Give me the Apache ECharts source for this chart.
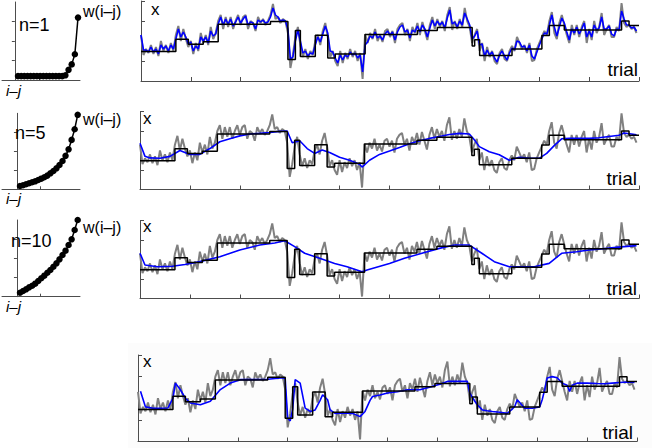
<!DOCTYPE html>
<html lang="en">
<head>
<meta charset="UTF-8">
<title>weighted running average</title>
<style>
    html,body{margin:0;padding:0;background:#fff;}
    #main{width:652px;height:448px;}
</style>
<script type="text/javascript" src="https://cdn.jsdelivr.net/npm/echarts@6/dist/echarts.min.js"></script>
</head>
<body>
<div id="main"></div>
<script>
    // observed x, one value per trial (gray)
    const grayX = [
        2.3, 1.3, 1.6, 1.4, 1.8, 1.35, 1.7, 1.25, 2.0, 1.5,
        1.8, 1.4, 1.9, 1.5, 2.3, 2.75, 2.0, 2.6, 2.1, 1.7,
        2.0, 1.35, 1.9, 1.5, 2.4, 1.9, 2.3, 1.8, 2.7, 2.1,
        2.4, 3.0, 3.3, 2.6, 3.2, 2.7, 3.2, 2.6, 3.0, 3.3,
        2.8, 3.2, 3.3, 2.6, 3.0, 2.9, 2.5, 3.2, 2.9, 3.1,
        2.8, 3.0, 3.3, 3.85, 3.1, 3.2, 2.9, 3.1, 3.0, 2.4,
        0.65, 1.3, 2.2, 2.7, 1.8, 1.2, 1.6, 1.1, 1.5, 1.3,
        2.0, 2.3, 1.8, 2.5, 2.9, 2.2, 1.2, 1.5, 1.0, 0.75,
        1.5, 0.9, 1.4, 1.1, 1.6, 1.2, 1.5, 1.0, 1.4, 0.1,
        2.35, 1.9, 2.4, 2.1, 2.6, 2.0, 2.3, 1.95, 2.5, 2.6,
        2.2, 2.5, 1.9, 2.6, 2.8, 2.9, 2.3, 2.6, 2.0, 2.7,
        2.4, 2.9, 2.3, 2.95, 2.5, 2.05, 2.8, 3.2, 2.6, 3.1,
        2.7, 3.0, 2.5, 3.3, 3.7, 2.55, 3.0, 2.6, 3.1, 2.7,
        3.65, 3.0, 2.7, 1.9, 2.3, 2.6, 1.5, 1.9, 1.0, 1.7,
        1.2, 1.5, 1.0, 0.85, 1.4, 1.6, 1.1, 1.0, 1.5, 1.75,
        1.5, 2.2, 1.9, 1.6, 1.8, 1.4, 1.9, 1.0, 1.05, 1.6,
        1.9, 2.2, 2.5, 2.3, 3.0, 3.45, 2.4, 2.1, 2.9, 3.3,
        2.8, 2.3, 1.9, 2.8, 2.3, 2.8, 2.2, 2.7, 3.0, 1.9,
        2.6, 2.05, 3.0, 2.4, 2.7, 3.4, 2.3, 2.6, 2.8, 2.2,
        2.2, 2.7, 2.5, 3.9, 2.9, 2.7, 2.8, 2.6, 2.7, 2.4
    ];

    // true x (black): trial where each level starts, and the level
    const stepTrial = [0, 14, 19, 25, 31, 52, 59, 62, 64, 70, 75, 78, 90, 111, 119, 133, 134, 136, 149, 161, 164, 170, 193, 196, 200];
    const stepLevel = [1.48, 2.09, 1.84, 1.96, 2.84, 2.97, 1.08, 2.53, 1.23, 2.29, 1.15, 1.35, 2.33, 2.53, 2.68, 1.75, 2.06, 1.27, 1.6, 2.28, 2.78, 2.55, 3.0, 2.78, 2.78];

    // estimate with n=1 (blue, every trial)
    const blueN1 = [
        2.3, 1.55, 1.55, 1.45, 1.7, 1.45, 1.6, 1.35, 1.8, 1.6,
        1.75, 1.5, 1.8, 1.6, 2.1, 2.6, 2.2, 2.45, 2.2, 1.85,
        1.95, 1.5, 1.75, 1.6, 2.2, 2.0, 2.2, 1.9, 2.5, 2.25,
        2.35, 2.85, 3.2, 2.8, 3.1, 2.85, 3.1, 2.75, 2.95, 3.2,
        2.9, 3.1, 3.25, 2.8, 2.95, 2.9, 2.6, 3.05, 2.95, 3.05,
        2.9, 2.95, 3.2, 3.65, 3.3, 3.2, 3.0, 3.05, 3.0, 2.6,
        1.1, 1.2, 2.0, 2.55, 2.0, 1.4, 1.5, 1.25, 1.4, 1.35,
        1.8, 2.2, 1.95, 2.35, 2.75, 2.4, 1.5, 1.45, 1.15, 0.9,
        1.3, 1.05, 1.3, 1.2, 1.45, 1.3, 1.4, 1.15, 1.3, 0.45,
        1.8, 1.95, 2.25, 2.15, 2.45, 2.15, 2.25, 2.05, 2.35, 2.5,
        2.3, 2.45, 2.05, 2.45, 2.7, 2.8, 2.45, 2.55, 2.15, 2.55,
        2.45, 2.75, 2.45, 2.8, 2.6, 2.2, 2.65, 3.05, 2.75, 3.0,
        2.8, 2.95, 2.65, 3.15, 3.55, 2.85, 2.95, 2.7, 3.0, 2.8,
        3.4, 3.1, 2.8, 2.1, 2.25, 2.5, 1.8, 1.85, 1.25, 1.55,
        1.3, 1.45, 1.15, 0.95, 1.3, 1.5, 1.25, 1.05, 1.4, 1.65,
        1.55, 2.0, 1.95, 1.7, 1.75, 1.5, 1.8, 1.25, 1.1, 1.45,
        1.8, 2.1, 2.4, 2.35, 2.8, 3.3, 2.7, 2.25, 2.7, 3.15,
        2.9, 2.45, 2.05, 2.6, 2.4, 2.7, 2.35, 2.6, 2.9, 2.2,
        2.5, 2.2, 2.8, 2.55, 2.65, 3.2, 2.6, 2.6, 2.75, 2.35,
        2.25, 2.6, 2.55, 3.5, 3.1, 2.8, 2.8, 2.65, 2.7, 2.5
    ];

    // estimate with n=5
    const blueN5Trial = [0, 2, 4, 8, 12, 16, 20, 24, 28, 32, 36, 40, 44, 48, 52, 56, 59, 61, 64, 67, 70, 73, 76, 80, 84, 88, 89, 92, 96, 100, 104, 108, 112, 116, 120, 124, 128, 132, 134, 136, 140, 144, 148, 152, 156, 160, 163, 166, 169, 172, 176, 180, 184, 188, 192, 194, 197, 199];
    const blueN5 = [2.37, 1.7, 1.62, 1.6, 1.7, 2.0, 1.8, 1.8, 2.1, 2.45, 2.6, 2.75, 2.85, 2.88, 2.92, 2.98, 3.0, 2.4, 2.5, 2.1, 1.85, 2.03, 1.9, 1.65, 1.5, 1.3, 1.15, 1.5, 1.8, 1.97, 2.15, 2.35, 2.5, 2.62, 2.72, 2.82, 2.88, 2.85, 2.55, 2.2, 1.94, 1.78, 1.5, 1.65, 1.6, 1.6, 1.85, 2.25, 2.6, 2.62, 2.62, 2.62, 2.65, 2.72, 2.78, 2.9, 2.85, 2.8];

    // estimate with n=10
    const blueN10Trial = [0, 2, 7, 13, 18, 24, 32, 40, 48, 54, 58, 62, 66, 72, 78, 83, 89, 91, 100, 106, 113, 120, 126, 132, 137, 142, 148, 153, 158, 164, 169, 175, 180, 187, 194, 199];
    const blueN10 = [2.32, 1.72, 1.63, 1.65, 1.74, 1.89, 2.14, 2.49, 2.74, 2.85, 2.96, 2.66, 2.32, 2.06, 1.8, 1.63, 1.37, 1.46, 1.8, 2.06, 2.32, 2.57, 2.74, 2.74, 2.32, 1.89, 1.63, 1.63, 1.63, 1.8, 2.32, 2.4, 2.49, 2.57, 2.66, 2.71];

    // estimate of the bottom panel
    const blueModelTrial = [1, 3, 6, 9, 12, 14, 15, 17, 19, 21, 25, 29, 33, 35, 37, 41, 46, 52, 58, 59, 60, 61, 62, 63, 65, 67, 69, 71, 73, 74, 76, 77, 79, 83, 86, 89, 91, 93, 94, 97, 100, 104, 108, 113, 118, 121, 124, 128, 132, 133, 135, 136, 138, 140, 142, 145, 148, 150, 151, 152, 153, 155, 158, 161, 162, 163, 164, 166, 168, 170, 172, 173, 174, 176, 180, 184, 187, 190, 193, 196, 199];
    const blueModel = [2.32, 1.6, 1.54, 1.54, 1.55, 2.0, 2.7, 2.39, 2.0, 1.78, 1.7, 1.86, 2.4, 2.55, 2.7, 2.86, 2.86, 2.88, 2.95, 2.9, 1.08, 0.95, 1.5, 2.86, 2.7, 1.54, 1.39, 1.46, 1.9, 2.16, 1.93, 1.46, 1.3, 1.32, 1.3, 1.15, 1.39, 1.9, 2.08, 2.15, 2.24, 2.3, 2.39, 2.39, 2.55, 2.65, 2.78, 2.78, 2.78, 2.24, 1.86, 1.7, 1.46, 1.42, 1.39, 1.35, 1.3, 1.5, 1.62, 1.93, 1.8, 1.54, 1.54, 1.6, 1.93, 2.4, 2.94, 3.0, 2.95, 2.7, 2.6, 2.32, 2.6, 2.7, 2.7, 2.68, 2.67, 2.7, 2.73, 2.75, 2.73];

    // weights w(i-j), oldest to newest
    const lagIndex = [1, 2, 3, 4, 5, 6, 7, 8, 9, 10, 11, 12, 13, 14, 15, 16, 17, 18, 19, 20];
    const weightN1 = [0.05, 0.05, 0.05, 0.05, 0.05, 0.05, 0.05, 0.05, 0.05, 0.05, 0.05, 0.05, 0.05, 0.05, 0.05, 0.06, 0.13, 0.2, 0.33, 0.8];
    const weightN5 = [0.044, 0.053, 0.066, 0.079, 0.092, 0.105, 0.123, 0.14, 0.158, 0.18, 0.21, 0.24, 0.276, 0.32, 0.373, 0.44, 0.526, 0.65, 0.79, 0.98];
    const weightN10 = [0.052, 0.074, 0.096, 0.122, 0.143, 0.17, 0.204, 0.24, 0.274, 0.313, 0.348, 0.39, 0.435, 0.487, 0.543, 0.6, 0.674, 0.748, 0.87, 1.0];

    const axisColor = '#4d4d4d';
    const font = '"Liberation Sans", Arial, sans-serif';

    let chart = echarts.init(document.getElementById('main'), null, {renderer: 'svg'});

    let pairs = (xs, ys) => xs.map((x, i) => [x, ys[i]]);
    let grayData = grayX.map((v, i) => [i, v]);
    let stepData = pairs(stepTrial, stepLevel);

    // right panels: [left, top, width, height, blue data]
    let panels = [
        [141, 1, 498, 80, blueN1.map((v, i) => [i, v])],
        [140, 111.5, 499, 78, pairs(blueN5Trial, blueN5)],
        [140, 220.5, 499, 78, pairs(blueN10Trial, blueN10)],
        [138, 355, 499, 86.5, pairs(blueModelTrial, blueModel)]
    ];
    // left weight plots: [top, height, xmin, xmax, weights]
    let wPlots = [
        [2, 78, -4.07, 20.63, weightN1],
        [113.3, 76, -4.92, 20.76, weightN5],
        [220, 76.7, -4.92, 20.76, weightN10]
    ];

    let grid = [], xAxis = [], yAxis = [], series = [];

    panels.forEach((p, k) => {
        grid.push({left: p[0], top: p[1], width: p[2], height: p[3]});
        xAxis.push({
            gridIndex: k, type: 'value', min: 0, max: 200, interval: 20,
            axisLine: {lineStyle: {color: axisColor, width: 1}},
            axisTick: {inside: true, length: 4, lineStyle: {color: axisColor}},
            axisLabel: {show: false}, splitLine: {show: false}
        });
        yAxis.push({
            gridIndex: k, type: 'value', min: 0, max: 4,
            axisLine: {show: true, lineStyle: {color: axisColor, width: 1}},
            axisTick: {show: true, inside: true, length: 4, customValues: [1, 3, 4], lineStyle: {color: axisColor}},
            axisLabel: {show: false}, splitLine: {show: false}
        });
        series.push({
            type: 'line', xAxisIndex: k, yAxisIndex: k, data: grayData,
            showSymbol: false, lineStyle: {color: '#808080', width: 2}, z: 2
        });
        series.push({
            type: 'line', xAxisIndex: k, yAxisIndex: k, data: p[4],
            showSymbol: false, lineStyle: {color: '#0000ff', width: 1.6}, z: 3
        });
        series.push({
            type: 'line', xAxisIndex: k, yAxisIndex: k, data: stepData, step: 'end',
            showSymbol: false, lineStyle: {color: '#000', width: 1.5}, z: 4
        });
    });

    wPlots.forEach((w, i) => {
        let k = panels.length + i;
        grid.push({left: 2, top: w[0], width: 78, height: w[1]});
        xAxis.push({
            gridIndex: k, type: 'value', min: w[2], max: w[3],
            axisLine: {lineStyle: {color: axisColor, width: 1}},
            axisTick: {inside: true, length: 3, customValues: [7.6], lineStyle: {color: axisColor}},
            axisLabel: {show: false}, splitLine: {show: false}
        });
        yAxis.push({
            gridIndex: k, type: 'value', min: 0, max: 1, position: 'right',
            axisLine: {show: true, lineStyle: {color: axisColor, width: 1}},
            axisTick: {show: true, inside: true, length: 3, customValues: [0.25, 0.5, 0.75], lineStyle: {color: axisColor}},
            axisLabel: {show: false}, splitLine: {show: false}
        });
        series.push({
            type: 'line', xAxisIndex: k, yAxisIndex: k, data: pairs(lagIndex, w[4]),
            symbol: 'circle', symbolSize: 6.5, itemStyle: {color: '#000'},
            lineStyle: {color: '#000', width: 1.5}
        });
    });

    let txt = (x, y, s, size, italic) => ({
        type: 'text', x: x, y: y, z: 10,
        style: {text: s, fill: '#000', fontSize: size, fontStyle: italic ? 'italic' : 'normal', fontFamily: font, verticalAlign: 'top'}
    });

    let graphic = [
        {type: 'rect', shape: {x: 128, y: 343, width: 524, height: 105}, style: {fill: '#fcfcfc'}, z: -10},
        txt(19, 16, 'n=1', 18), txt(15, 124, 'n=5', 18), txt(11, 232, 'n=10', 18),
        txt(83, 3, 'w(i\u2013j)', 16), txt(83, 111, 'w(i\u2013j)', 16), txt(83, 219, 'w(i\u2013j)', 16),
        txt(6, 83, 'i\u2013j', 15, true), txt(6, 191, 'i\u2013j', 15, true), txt(6, 299, 'i\u2013j', 15, true),
        txt(151, 1, 'x', 17), txt(143, 110, 'x', 17), txt(143, 218, 'x', 17), txt(143, 353, 'x', 17)
    ];
    [[638, 60], [637, 169], [637, 279], [633, 423]].forEach(t => {
        graphic.push({
            type: 'text', x: t[0], y: t[1], z: 10,
            style: {text: 'trial', fill: '#000', fontSize: 19, fontFamily: font, align: 'right', verticalAlign: 'top'}
        });
    });

    let option = {
        animation: false,
        backgroundColor: '#fff',
        grid: grid,
        xAxis: xAxis,
        yAxis: yAxis,
        series: series,
        graphic: graphic
    };
    chart.setOption(option);
</script>
</body>
</html>
